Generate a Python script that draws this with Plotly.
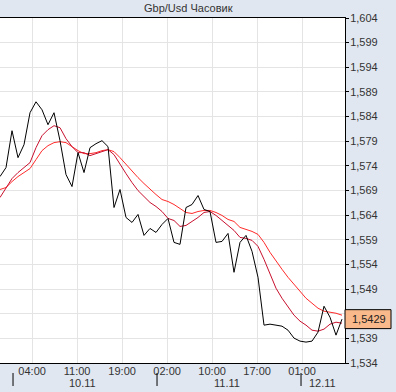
import plotly.graph_objects as go

title = "Gbp/Usd Часовик"

# hourly close prices (bar index 0..57)
close = [1.57183, 1.57365, 1.58113, 1.57567, 1.57830, 1.58478, 1.58700, 1.58538, 1.58235, 1.58478,
         1.57911, 1.57223, 1.56980, 1.57668, 1.57264, 1.57769, 1.57850, 1.57911, 1.57790, 1.56555,
         1.56920, 1.56353, 1.56252, 1.56414, 1.55989, 1.56130, 1.56049, 1.56211, 1.56333, 1.55847,
         1.55807, 1.56555, 1.56616, 1.56798, 1.56515, 1.56474, 1.55847, 1.55867, 1.56029, 1.55240,
         1.55847, 1.55989, 1.55665, 1.55139, 1.54168, 1.54188, 1.54168, 1.54147, 1.54066, 1.53905,
         1.53844, 1.53824, 1.53844, 1.54026, 1.54552, 1.54329, 1.53965, 1.54290]

ma_fast = [1.56758, 1.56940, 1.57142, 1.57264, 1.57365, 1.57466, 1.57769, 1.58012, 1.58134, 1.58215,
           1.58174, 1.57952, 1.57790, 1.57668, 1.57668, 1.57608, 1.57648, 1.57689, 1.57729, 1.57628,
           1.57425, 1.57243, 1.57061, 1.56899, 1.56778, 1.56657, 1.56576, 1.56474, 1.56333, 1.56292,
           1.56171, 1.56191, 1.56272, 1.56353, 1.56454, 1.56474, 1.56394, 1.56292, 1.56191, 1.56090,
           1.55948, 1.55928, 1.55888, 1.55766, 1.55503, 1.55200, 1.54917, 1.54714, 1.54532, 1.54370,
           1.54249, 1.54168, 1.54066, 1.54046, 1.54087, 1.54188, 1.54228, 1.54208]

ma_slow = [1.56920, 1.56960, 1.57081, 1.57183, 1.57264, 1.57345, 1.57527, 1.57709, 1.57810, 1.57871,
           1.57891, 1.57871, 1.57790, 1.57709, 1.57648, 1.57648, 1.57668, 1.57709, 1.57729, 1.57689,
           1.57567, 1.57425, 1.57284, 1.57162, 1.57041, 1.56920, 1.56818, 1.56717, 1.56677, 1.56616,
           1.56535, 1.56454, 1.56434, 1.56474, 1.56495, 1.56495, 1.56454, 1.56394, 1.56313, 1.56272,
           1.56151, 1.56110, 1.56070, 1.56009, 1.55847, 1.55645, 1.55463, 1.55301, 1.55139, 1.54997,
           1.54856, 1.54714, 1.54613, 1.54512, 1.54451, 1.54431, 1.54410, 1.54370]

time_labels = ["04:00", "11:00", "19:00", "02:00", "10:00", "17:00", "01:00"]
time_pos = [5.35, 12.85, 20.35, 27.85, 35.35, 42.85, 50.35]
hidden_label = "20:00"

date_labels = ["10.11", "11.11", "12.11"]
date_label_pos = [13.7, 37.8, 53.7]
date_sep_pos = [2.17, 26.17, 50.17]

y_ticks = [1.534 + 0.005 * k for k in range(15)]
y_text = [f"{v:.3f}".replace(".", ",") for v in y_ticks]
last_value = close[-1]

font = "Liberation Sans, Arial, sans-serif"
txt = "#333333"
idx = list(range(len(close)))
PW = 345.0  # plot width in px

fig = go.Figure()
fig.add_trace(go.Scatter(x=idx, y=ma_slow, mode="lines", line=dict(color="#ff2a2a", width=1)))
fig.add_trace(go.Scatter(x=idx, y=ma_fast, mode="lines", line=dict(color="#c8102e", width=1)))
fig.add_trace(go.Scatter(x=idx, y=close, mode="lines", line=dict(color="#000000", width=1)))

fig.update_layout(
    width=396, height=392,
    margin=dict(l=0, r=51, t=18, b=29),
    paper_bgcolor="#e1e7f0", plot_bgcolor="#ffffff",
    showlegend=False,
    font=dict(family=font, size=11, color=txt),
)
fig.update_xaxes(range=[0, 57.5], tickvals=time_pos, ticktext=time_labels,
                 showgrid=True, gridcolor="#e4e4e4", gridwidth=1, zeroline=False,
                 showline=True, linecolor="#000000", linewidth=1, mirror=True,
                 ticks="", ticklabelstandoff=-2, tickfont=dict(size=11, color=txt))
fig.update_yaxes(range=[1.534, 1.604], tickvals=y_ticks, ticktext=y_text, side="right",
                 showgrid=True, gridcolor="#e4e4e4", gridwidth=1, zeroline=False,
                 showline=True, linecolor="#000000", linewidth=1,
                 ticks="outside", ticklen=3, tickcolor="#000000", ticklabelstandoff=-1,
                 tickfont=dict(size=11, color=txt))

fig.add_annotation(x=188 / PW, xref="paper", y=1, yref="paper", yanchor="bottom", yshift=2,
                   text=title, showarrow=False, font=dict(size=11, color=txt))

# partially hidden time label at the left edge
fig.add_annotation(x=2 / PW, xref="paper", xanchor="right", y=0, yref="paper", yanchor="top",
                   yshift=-1, text=hidden_label, showarrow=False, font=dict(size=11, color=txt))

for lab, pos in zip(date_labels, date_label_pos):
    fig.add_annotation(x=pos, xref="x", y=0, yref="paper", yanchor="top", yshift=-12,
                       text=lab, showarrow=False, font=dict(size=11, color=txt))
for pos in date_sep_pos:
    fig.add_shape(type="line", x0=pos, x1=pos, xref="x", y0=-10 / PW, y1=-23 / PW, yref="paper",
                  line=dict(color="#000000", width=1))

# last value marker box
half_h = 9.5 * 0.005 / 24.71
fig.add_shape(type="rect", xref="paper", x0=1.0, x1=1 + 46 / PW, yref="y",
              y0=last_value - half_h, y1=last_value + half_h,
              fillcolor="#f9b98a", line=dict(color="#000000", width=1), layer="above")
fig.add_annotation(x=1 + 24 / PW, xref="paper", xanchor="center", y=last_value, yref="y",
                   yanchor="middle", text=f"{last_value:.4f}".replace(".", ","), showarrow=False,
                   font=dict(size=11, color="#222222"))

fig.write_html("out.html", config={"displayModeBar": False},
               post_script="document.body.style.margin='0';")
